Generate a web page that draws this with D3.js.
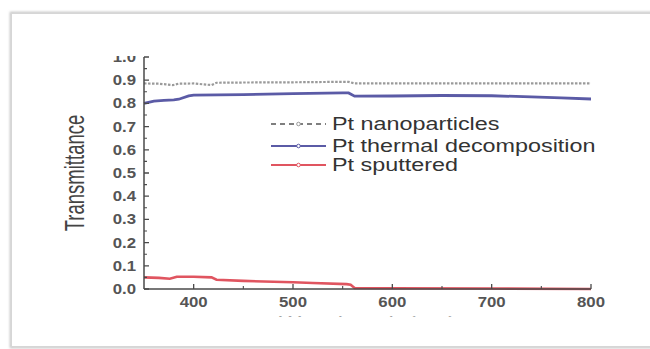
<!DOCTYPE html>
<html>
<head>
<meta charset="utf-8">
<script src="https://cdn.jsdelivr.net/npm/d3@7"></script>
<style>
  html, body { margin: 0; padding: 0; background: #fff; }
  svg { display: block; }
  text { font-family: "Liberation Sans", Arial, sans-serif; }
</style>
</head>
<body>
<svg id="chart" width="650" height="349"></svg>
<script>
// Transmittance spectra (wavelength in nm, transmittance as fraction)
const ptNanoparticles = [
  [350, 0.886], [365, 0.885], [372, 0.882], [379, 0.879], [385, 0.885],
  [400, 0.886], [410, 0.882], [418, 0.879], [423, 0.889], [450, 0.890],
  [500, 0.891], [550, 0.893], [556, 0.893], [562, 0.886], [600, 0.886],
  [700, 0.886], [800, 0.886]
];
const ptThermal = [
  [350, 0.800], [360, 0.810], [370, 0.813], [380, 0.815], [385, 0.818],
  [395, 0.832], [400, 0.836], [450, 0.838], [500, 0.842], [550, 0.845],
  [556, 0.845], [562, 0.831], [600, 0.832], [650, 0.834], [700, 0.833],
  [740, 0.828], [770, 0.824], [800, 0.819]
];
const ptSputtered = [
  [350, 0.050], [365, 0.048], [376, 0.044], [383, 0.053], [400, 0.053],
  [418, 0.050], [423, 0.040], [450, 0.035], [500, 0.029], [520, 0.026],
  [554, 0.021], [558, 0.018], [562, 0.004], [600, 0.003], [700, 0.002],
  [800, 0.000]
];
const seriesNames = ["Pt nanoparticles", "Pt thermal decomposition", "Pt sputtered"];
const xTicks = [400, 500, 600, 700, 800];
const xMinorTicks = [450, 550, 650, 750];
const yTicks = [0.0, 0.1, 0.2, 0.3, 0.4, 0.5, 0.6, 0.7, 0.8, 0.9, 1.0];
const yMinorTicks = [0.05, 0.15, 0.25, 0.35, 0.45, 0.55, 0.65, 0.75, 0.85, 0.95];
const xTitle = "Wavelength (nm)";
const yTitle = "Transmittance";

const svg = d3.select("#chart");

// outer frame with soft shadow
const defs = svg.append("defs");
const shadow = defs.append("filter").attr("id", "shadow")
  .attr("x", "-5%").attr("y", "-5%").attr("width", "110%").attr("height", "110%");
shadow.append("feGaussianBlur").attr("stdDeviation", 1.2);
svg.append("rect").attr("x", 11).attr("y", 13).attr("width", 700).attr("height", 334)
  .attr("fill", "none").attr("stroke", "#c4c4c4").attr("stroke-width", 2.5)
  .attr("filter", "url(#shadow)");
svg.append("rect").attr("x", 11.5).attr("y", 13.5).attr("width", 700).attr("height", 333)
  .attr("fill", "#fff").attr("stroke", "#d6d6d6").attr("stroke-width", 1);

// visible window of the figure
defs.append("clipPath").attr("id", "view")
  .append("rect").attr("x", 12).attr("y", 56).attr("width", 630).attr("height", 260.5);

const g = svg.append("g").attr("clip-path", "url(#view)");

const x = d3.scaleLinear().domain([350, 800]).range([144, 591]);
const y = d3.scaleLinear().domain([0, 1]).range([289, 57]);

const stretch = 1.2;
const axisColor = "#4a4a4a";
const labelColor = "#555";

// series lines
const line = d3.line().x(d => x(d[0])).y(d => y(d[1]));
g.append("path").datum(ptNanoparticles).attr("d", line)
  .attr("fill", "none").attr("stroke", "#9a9a9a").attr("stroke-width", 2.2)
  .attr("stroke-dasharray", "2.5,1.5");
g.append("path").datum(ptThermal).attr("d", line)
  .attr("fill", "none").attr("stroke", "#5b5ba6").attr("stroke-width", 2.8);
g.append("path").datum(ptSputtered).attr("d", line)
  .attr("fill", "none").attr("stroke", "#e05560").attr("stroke-width", 2.6);

// y axis (ticks pointing inward)
g.append("line").attr("x1", x(350)).attr("x2", x(350)).attr("y1", y(0)).attr("y2", y(1))
  .attr("stroke", axisColor).attr("stroke-width", 1.5);
g.selectAll(".ytick").data(yTicks).join("line")
  .attr("x1", x(350)).attr("x2", x(350) + 5)
  .attr("y1", d => y(d)).attr("y2", d => y(d))
  .attr("stroke", axisColor).attr("stroke-width", 1.3);
g.selectAll(".yminor").data(yMinorTicks).join("line")
  .attr("x1", x(350)).attr("x2", x(350) + 3)
  .attr("y1", d => y(d)).attr("y2", d => y(d))
  .attr("stroke", axisColor).attr("stroke-width", 1.1);
g.selectAll(".ylabel").data(yTicks).join("text")
  .attr("transform", d => `translate(${x(350) - 8},${y(d)}) scale(${stretch},1)`)
  .attr("text-anchor", "end").attr("dy", "0.36em")
  .attr("font-size", 14).attr("font-weight", "bold").attr("fill", labelColor)
  .text(d => d3.format(".1f")(d));

// x axis (ticks pointing inward)
g.append("line").attr("x1", x(350)).attr("x2", x(800)).attr("y1", y(0)).attr("y2", y(0))
  .attr("stroke", axisColor).attr("stroke-width", 1.5);
g.selectAll(".xtick").data(xTicks).join("line")
  .attr("x1", d => x(d)).attr("x2", d => x(d))
  .attr("y1", y(0)).attr("y2", y(0) - 5)
  .attr("stroke", axisColor).attr("stroke-width", 1.3);
g.selectAll(".xminor").data(xMinorTicks).join("line")
  .attr("x1", d => x(d)).attr("x2", d => x(d))
  .attr("y1", y(0)).attr("y2", y(0) - 3)
  .attr("stroke", axisColor).attr("stroke-width", 1.1);
g.selectAll(".xlabel").data(xTicks).join("text")
  .attr("transform", d => `translate(${x(d)},${y(0) + 12.5}) scale(${stretch},1)`)
  .attr("text-anchor", "middle").attr("dy", "0.36em")
  .attr("font-size", 14).attr("font-weight", "bold").attr("fill", labelColor)
  .text(d => d);

// axis titles
g.append("text")
  .attr("transform", `translate(${(x(350) + x(800)) / 2},329) scale(1.3,1)`)
  .attr("text-anchor", "middle").attr("font-size", 18).attr("fill", "#555")
  .text(xTitle);
g.append("text")
  .attr("transform", `translate(84,${(y(0) + y(1)) / 2}) scale(1.45,1) rotate(-90)`)
  .attr("text-anchor", "middle").attr("font-size", 18.5).attr("fill", "#444")
  .text(yTitle);

// legend
const legendStyles = [
  { stroke: "#555", width: 1.6, dash: "5,4", marker: "#999" },
  { stroke: "#5b5ba6", width: 2, dash: null, marker: "#5b5ba6" },
  { stroke: "#e05560", width: 2, dash: null, marker: "#e05560" }
];
const legendY = [124, 146, 165];
const legend = g.append("g");
seriesNames.forEach((name, i) => {
  const s = legendStyles[i];
  legend.append("line").attr("x1", 271).attr("x2", 326)
    .attr("y1", legendY[i]).attr("y2", legendY[i])
    .attr("stroke", s.stroke).attr("stroke-width", s.width)
    .attr("stroke-dasharray", s.dash);
  legend.append("circle").attr("cx", 298.5).attr("cy", legendY[i]).attr("r", 1.8)
    .attr("fill", "#fff").attr("stroke", s.marker).attr("stroke-width", 1);
  legend.append("text")
    .attr("transform", `translate(332,${legendY[i]}) scale(1.32,1)`)
    .attr("dy", "0.35em").attr("font-size", 17.7).attr("fill", "#333")
    .text(name);
});
</script>
</body>
</html>
